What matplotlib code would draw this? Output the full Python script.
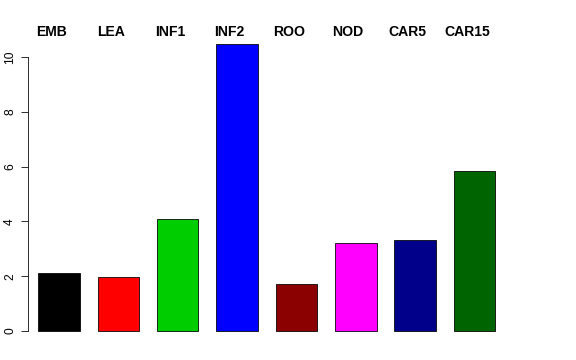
import numpy as np
import matplotlib.pyplot as plt
import matplotlib.transforms as mtransforms

# Data
labels = ["EMB", "LEA", "INF1", "INF2", "ROO", "NOD", "CAR5", "CAR15"]
values = [2.12, 1.96, 4.08, 10.5, 1.72, 3.21, 3.32, 5.84]
colors = ["#000000", "#FF0000", "#00CD00", "#0000FF", "#8B0000", "#FF00FF", "#00008B", "#006400"]
yticks = [0, 2, 4, 6, 8, 10]

plt.rcParams['font.family'] = ['Liberation Sans', 'DejaVu Sans']

fig = plt.figure(figsize=(8, 5), dpi=72)
ax = fig.add_axes([28 / 576, 1 - 342.5 / 360, 477.5 / 576, 310.5 / 360])

x = np.arange(len(labels))
ax.bar(x, values, width=0.7, color=colors, edgecolor='black', linewidth=0.8)

ax.set_xlim(-0.522, len(labels) - 1 + 0.522)
ax.set_ylim(-0.42, 10.92)

for side in ['top', 'right', 'bottom']:
    ax.spines[side].set_visible(False)
ax.spines['left'].set_bounds(0, 10)
ax.spines['left'].set_linewidth(0.8)
ax.set_xticks([])
ax.set_yticks(yticks)
ax.set_yticklabels([str(t) for t in yticks], rotation=90, va='center', fontsize=12)
ax.tick_params(axis='y', length=7, width=0.8, pad=5)

# category labels above the plot
trans = mtransforms.blended_transform_factory(ax.transData, fig.transFigure)
for xi, lab in zip(x, labels):
    ax.text(xi - 0.13, 1 - 36 / 360, lab, transform=trans, ha='center', va='baseline',
            fontsize=14, fontweight='bold', clip_on=False)

plt.savefig("out.png", dpi=72)
